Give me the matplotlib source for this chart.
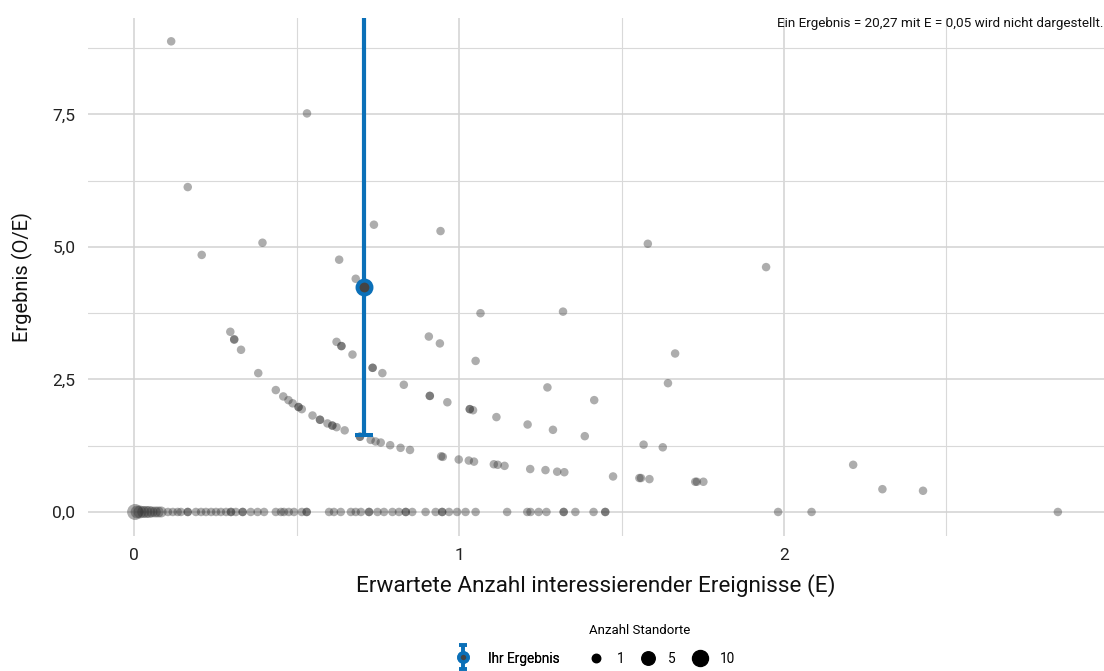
import matplotlib
matplotlib.use("Agg")
import matplotlib.pyplot as plt
import numpy as np
from matplotlib.lines import Line2D
from matplotlib.path import Path

plt.rcParams['font.family'] = ['Roboto', 'DejaVu Sans']

# ---- data: expected events (E), result (O/E), number of sites ----
E_nonzero = [0.114, 0.532, 0.165, 0.208, 0.395, 0.631, 0.738, 0.943, 0.682, 0.708,
             0.296, 0.308, 0.308, 0.329, 0.382, 0.436, 0.459, 0.475, 0.488, 0.506,
             0.506, 0.516, 0.549, 0.572, 0.572, 0.595, 0.610, 0.610, 0.623, 0.648,
             0.695, 0.695, 0.728, 0.743, 0.759, 0.788, 0.820, 0.849, 0.945, 0.950,
             0.999, 1.030, 1.046, 1.107, 1.119, 1.140, 1.219, 1.266, 1.302, 1.324,
             1.474, 1.555, 1.560, 1.586, 1.727, 1.732, 1.752,
             0.623, 0.638, 0.638, 0.672, 0.734, 0.734, 0.764, 0.830, 0.910, 0.910,
             0.964, 1.033, 1.033, 1.043, 1.115, 1.211, 1.289, 1.387, 1.568, 1.627,
             0.907, 0.941, 1.066, 1.051, 1.581, 1.320, 1.665, 1.643, 1.272, 1.416,
             1.945, 2.213, 2.303, 2.428]
OE_nonzero = [8.88, 7.52, 6.13, 4.85, 5.08, 4.76, 5.42, 5.30, 4.40, 4.24,
              3.40, 3.26, 3.25, 3.06, 2.62, 2.30, 2.18, 2.11, 2.05, 1.98,
              1.98, 1.94, 1.82, 1.74, 1.74, 1.67, 1.63, 1.63, 1.60, 1.54,
              1.42, 1.42, 1.36, 1.33, 1.31, 1.26, 1.21, 1.17, 1.05, 1.04,
              0.99, 0.97, 0.95, 0.90, 0.89, 0.87, 0.81, 0.79, 0.76, 0.75,
              0.67, 0.64, 0.64, 0.62, 0.57, 0.57, 0.57,
              3.21, 3.13, 3.13, 2.97, 2.72, 2.72, 2.62, 2.40, 2.19, 2.19,
              2.07, 1.94, 1.94, 1.92, 1.79, 1.65, 1.55, 1.43, 1.27, 1.22,
              3.31, 3.18, 3.75, 2.85, 5.06, 3.78, 2.99, 2.43, 2.35, 2.11,
              4.62, 0.89, 0.43, 0.40]
N_nonzero = [1] * len(E_nonzero)

E_zero = [0.003, 0.009, 0.018, 0.028, 0.037, 0.046, 0.055, 0.065, 0.074, 0.083,
          0.104, 0.119, 0.134, 0.144, 0.165, 0.165, 0.190, 0.206, 0.221, 0.237,
          0.252, 0.267, 0.283, 0.298, 0.298, 0.313, 0.334, 0.334, 0.359, 0.380,
          0.400, 0.436, 0.452, 0.461, 0.476, 0.492, 0.516, 0.531, 0.531, 0.600,
          0.615, 0.636, 0.667, 0.682, 0.698, 0.723, 0.723, 0.749, 0.769, 0.795,
          0.815, 0.836, 0.836, 0.856, 0.897, 0.928, 0.948, 0.948, 0.969, 0.994,
          1.020, 1.051, 1.148, 1.210, 1.220, 1.245, 1.269, 1.322, 1.322, 1.358,
          1.414, 1.450, 1.450, 1.982, 2.085, 2.843]
N_zero = [10, 4, 4, 3, 3, 3, 2, 2, 2, 2] + [1] * (len(E_zero) - 10)
OE_zero = [0.0] * len(E_zero)

# own result
own_E = 0.708
own_OE = 4.24
own_lo = 1.45
own_hi = 11.5

legend_sizes = [1, 5, 10]
x_ticks = [0, 1, 2]
y_ticks = [0.0, 2.5, 5.0, 7.5]
note = "Ein Ergebnis = 20,27 mit E = 0,05 wird nicht dargestellt."

BLUE = '#0b70b8'
GREY = '#333333'


def size_of(n):
    d_px = 8.5 + 7.5 * np.sqrt((np.asarray(n, dtype=float) - 1) / 9.0)
    return (d_px * 0.72) ** 2


W, H = 1104, 671
fig = plt.figure(figsize=(W / 100, H / 100), dpi=100)
ax = fig.add_axes([88 / W, 1 - 535.5 / H, 1 - 88 / W, (535.5 - 18) / H])

ax.set_xlim(-0.142, 2.985)
ax.set_ylim(-0.444, 9.32)

E_all = E_zero + E_nonzero
OE_all = OE_zero + OE_nonzero
N_all = N_zero + N_nonzero
ax.scatter(E_all, OE_all, s=size_of(N_all), color=GREY, alpha=0.4,
           linewidths=0, zorder=3)

ax.errorbar([own_E], [own_OE], yerr=[[own_OE - own_lo], [own_hi - own_OE]],
            fmt='o', color=BLUE, ms=10, mfc='#444444', mec=BLUE, mew=2.9,
            elinewidth=3, capsize=6.8, capthick=2.4, zorder=5)

# grid
ax.set_xticks(x_ticks)
ax.set_xticklabels([str(t) for t in x_ticks])
ax.set_yticks(y_ticks)
ax.set_yticklabels([f"{t:.1f}".replace('.', ',') for t in y_ticks])
ax.set_xticks([0.5, 1.5, 2.5], minor=True)
ax.set_yticks([1.25, 3.75, 6.25, 8.75], minor=True)
ax.grid(True, which='major', color='#d2d2d2', linewidth=1.1, zorder=0)
ax.grid(True, which='minor', color='#d9d9d9', linewidth=0.8, zorder=0)
ax.set_axisbelow(True)
for sp in ax.spines.values():
    sp.set_visible(False)
ax.tick_params(which='both', length=0)
ax.tick_params(axis='x', labelsize=12.5, labelcolor='#222222', pad=9)
ax.tick_params(axis='y', labelsize=12.5, labelcolor='#222222', pad=9)

ax.set_xlabel("Erwartete Anzahl interessierender Ereignisse (E)", fontsize=16.2,
              color='#111111', labelpad=8)
ax.set_ylabel("Ergebnis (O/E)", fontsize=14.5, color='#111111', labelpad=14)

fig.text(1103 / W, 1 - 24 / H, note, ha='right', va='center', fontsize=9.7,
         color='#111111')

# legend glyph for own result: vertical error bar with caps + ringed point
bar_path = Path([(0, -1), (0, 1), (-0.38, -1), (0.38, -1), (-0.38, 1), (0.38, 1)],
                [Path.MOVETO, Path.LINETO, Path.MOVETO, Path.LINETO,
                 Path.MOVETO, Path.LINETO])
bar_handle = Line2D([], [], ls='', marker=bar_path, markersize=17,
                    markeredgewidth=2.6, color=BLUE, markerfacecolor='none')
pt_handle = Line2D([], [], ls='', marker='o', markersize=6.5,
                   markerfacecolor='#444444', markeredgecolor=BLUE,
                   markeredgewidth=2.6)
leg1 = fig.legend([(bar_handle, pt_handle)], ["Ihr Ergebnis"], loc='center',
                  bbox_to_anchor=(508 / W, 1 - 659 / H), frameon=False,
                  fontsize=9.8, handlelength=1.0, handletextpad=1.3,
                  handleheight=1.6)
size_handles = [Line2D([], [], ls='', marker='o', color='black',
                       markersize=np.sqrt(size_of(n))) for n in legend_sizes]
leg2 = fig.legend(size_handles, [str(n) for n in legend_sizes], loc='center left',
                  bbox_to_anchor=(577 / W, 1 - 645 / H), frameon=False, ncol=3,
                  fontsize=9.8, title="Anzahl Standorte", title_fontsize=9.5,
                  handlelength=1.0, handletextpad=1.0, columnspacing=1.25,
                  labelspacing=1.1, alignment='left')
fig.add_artist(leg1)

fig.savefig("out.png", dpi=100)
